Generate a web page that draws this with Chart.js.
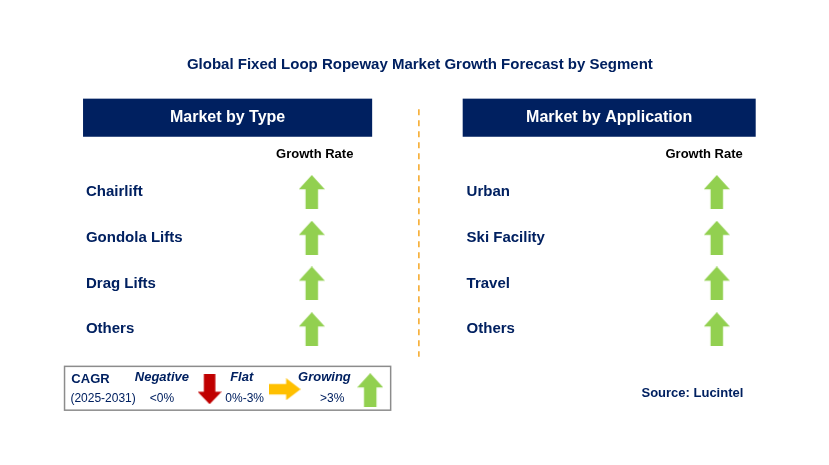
<!DOCTYPE html>
<html lang="en">
<head>
  <meta charset="UTF-8">
  <title>Global Fixed Loop Ropeway Market Growth Forecast by Segment</title>
  <script src="https://cdn.jsdelivr.net/npm/chart.js"></script>
  <style>
    body { margin: 0; background: #fff; }
    canvas { display: block; }
  </style>
</head>
<body>
  <canvas id="segChart" width="829" height="465"></canvas>
  <script>
    const title = 'Global Fixed Loop Ropeway Market Growth Forecast by Segment';
    const panelTitles = ['Market by Type', 'Market by Application'];
    const typeSegments = ['Chairlift', 'Gondola Lifts', 'Drag Lifts', 'Others'];
    const typeGrowth = ['up', 'up', 'up', 'up'];
    const appSegments = ['Urban', 'Ski Facility', 'Travel', 'Others'];
    const appGrowth = ['up', 'up', 'up', 'up'];
    const rowY = [190, 238, 286, 334];

    const NAVY = '#002060';
    const colors = { up: '#92D050', down: '#C00000', flat: '#FFC000' };

    // arrow images used as point styles
    function arrow(dir, w, h) {
      const c = document.createElement('canvas');
      c.width = w; c.height = h;
      const g = c.getContext('2d');
      g.fillStyle = colors[dir];
      g.beginPath();
      if (dir === 'flat') {
        const s = h * 0.24, hx = w * 0.55;
        g.moveTo(0, h / 2 - s); g.lineTo(hx, h / 2 - s); g.lineTo(hx, 0);
        g.lineTo(w, h / 2); g.lineTo(hx, h); g.lineTo(hx, h / 2 + s); g.lineTo(0, h / 2 + s);
      } else {
        const s = w * 0.24, hy = h * 0.42;
        g.moveTo(w / 2, 0); g.lineTo(w, hy); g.lineTo(w / 2 + s, hy); g.lineTo(w / 2 + s, h);
        g.lineTo(w / 2 - s, h); g.lineTo(w / 2 - s, hy); g.lineTo(0, hy);
        if (dir === 'down') { g.setTransform(1, 0, 0, -1, 0, h); }
      }
      g.closePath();
      if (dir === 'down') {
        g.setTransform(1, 0, 0, 1, 0, 0);
        g.clearRect(0, 0, w, h);
        const s = w * 0.24, hy = h * 0.58;
        g.beginPath();
        g.moveTo(w / 2 - s, 0); g.lineTo(w / 2 + s, 0); g.lineTo(w / 2 + s, hy); g.lineTo(w, hy);
        g.lineTo(w / 2, h); g.lineTo(0, hy); g.lineTo(w / 2 - s, hy);
        g.closePath();
      }
      g.fill();
      return c;
    }
    const arrowImgs = { up: arrow('up', 26, 34), down: arrow('down', 24, 30), flat: arrow('flat', 32, 22) };

    const growthPoints = [
      ...typeGrowth.map((d, i) => ({ x: 309, y: rowY[i], d })),
      ...appGrowth.map((d, i) => ({ x: 725, y: rowY[i], d })),
      { x: 204, y: 397, d: 'down' },
      { x: 281, y: 397, d: 'flat' },
      { x: 369, y: 398, d: 'up' }
    ];

    const textPlugin = {
      id: 'infoText',
      beforeDatasetsDraw(chart) {
        const { ctx, scales: { x, y } } = chart;
        const X = v => x.getPixelForValue(v), Y = v => y.getPixelForValue(v);
        ctx.save();
        ctx.textBaseline = 'middle';
        const txt = (t, px, py, font, color, align) => {
          ctx.font = font; ctx.fillStyle = color; ctx.textAlign = align || 'left';
          ctx.fillText(t, X(px), Y(py));
        };
        txt(title, 420, 57, 'bold 15px Arial', NAVY, 'center');
        [[74, 371], [464, 765]].forEach((p, i) => {
          ctx.fillStyle = NAVY;
          ctx.fillRect(X(p[0]), Y(92), X(p[1]) - X(p[0]), Y(132) - Y(92));
          txt(panelTitles[i], (p[0] + p[1]) / 2, 112, 'bold 16px Arial', '#fff', 'center');
        });
        ctx.strokeStyle = '#F5A623'; ctx.lineWidth = 1.5; ctx.setLineDash([6, 5]);
        ctx.beginPath(); ctx.moveTo(X(419), Y(103)); ctx.lineTo(X(419), Y(363)); ctx.stroke();
        ctx.setLineDash([]);
        txt('Growth Rate', 312, 151, 'bold 13px Arial', '#000', 'center');
        txt('Growth Rate', 712, 151, 'bold 13px Arial', '#000', 'center');
        typeSegments.forEach((s, i) => txt(s, 77, rowY[i], 'bold 15px Arial', NAVY));
        appSegments.forEach((s, i) => txt(s, 468, rowY[i], 'bold 15px Arial', NAVY));
        // legend box
        ctx.strokeStyle = '#8c8c8c'; ctx.lineWidth = 1.5;
        ctx.strokeRect(X(55), Y(373), X(390) - X(55), Y(419) - Y(373));
        txt('CAGR', 62, 387, 'bold 13px Arial', NAVY);
        txt('(2025-2031)', 61, 407, '12px Arial', NAVY);
        txt('Negative', 155, 385, 'bold italic 13px Arial', NAVY, 'center');
        txt('<0%', 155, 407, '12px Arial', NAVY, 'center');
        txt('Flat', 237, 385, 'bold italic 13px Arial', NAVY, 'center');
        txt('0%-3%', 240, 407, '12px Arial', NAVY, 'center');
        txt('Growing', 322, 385, 'bold italic 13px Arial', NAVY, 'center');
        txt('>3%', 330, 407, '12px Arial', NAVY, 'center');
        txt('Source: Lucintel', 700, 401, 'bold 13px Arial', NAVY, 'center');
        ctx.restore();
      }
    };

    new Chart(document.getElementById('segChart'), {
      type: 'scatter',
      data: {
        datasets: [{
          data: growthPoints,
          pointStyle: growthPoints.map(p => arrowImgs[p.d]),
          pointRadius: 10
        }]
      },
      options: {
        responsive: false,
        animation: false,
        layout: { padding: 0 },
        plugins: { legend: { display: false }, tooltip: { enabled: false } },
        scales: {
          x: { display: false, min: 0, max: 829 },
          y: { display: false, min: 0, max: 465, reverse: true }
        }
      },
      plugins: [textPlugin]
    });
  </script>
</body>
</html>
